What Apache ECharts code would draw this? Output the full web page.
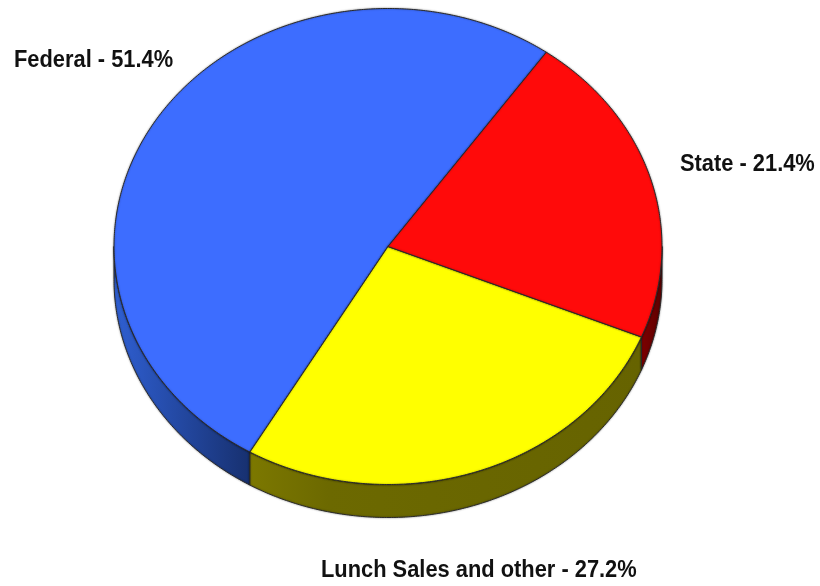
<!DOCTYPE html>
<html>
<head>
<meta charset="utf-8">
<script src="https://cdn.jsdelivr.net/npm/echarts@6/dist/echarts.min.js"></script>
<style>
  html, body { margin: 0; padding: 0; background: #fff; }
  #chart { width: 820px; height: 586px; }
</style>
</head>
<body>
<div id="chart"></div>
<script>
var categories = ['Federal', 'Lunch Sales and other', 'State'];
var shares = [51.4, 27.2, 21.4];

var topColors = ['#3d6dff', '#ffff00', '#ff0a0a'];
var sideColors = [
  [[0, '#2f5fd2'], [1, '#17306f']],
  [[0, '#7c7800'], [0.2, '#6c6900'], [1, '#666300']],
  [[0, '#7d0000'], [1, '#5c0000']]
];
var labelSpots = [[14, 61], [321, 571], [680, 165]];

var cx = 388, cy = 246.5, rx = 274, ry = 238, depth = 33;
var startAngle = 54.7; // federal starts here, going counter clockwise

var total = shares.reduce(function (a, b) { return a + b; }, 0);

function sliceAngles(index) {
  var before = 0;
  for (var i = 0; i < index; i++) before += shares[i];
  return [startAngle + before / total * 360, startAngle + (before + shares[index]) / total * 360];
}

function rim(angle, dy) {
  var r = angle * Math.PI / 180;
  return [cx + rx * Math.cos(r), cy - ry * Math.sin(r) + (dy || 0)];
}

function arcPoints(from, to, dy) {
  var pts = [];
  var n = Math.max(2, Math.ceil(Math.abs(to - from) * 2));
  for (var i = 0; i <= n; i++) pts.push(rim(from + (to - from) * i / n, dy));
  return pts;
}

function renderSide(params, api) {
  var a = sliceAngles(params.dataIndex);
  var value = api.value(0);
  // only the front half of the rim can be seen
  var from = Math.max(a[0], 180), to = Math.min(a[1], 360);
  if (!value || to <= from) return null;
  var pts = arcPoints(from, to, 0).concat(arcPoints(to, from, depth));
  return {
    type: 'polygon',
    shape: { points: pts },
    style: {
      fill: new echarts.graphic.LinearGradient(0, 0, 1, 0, sideColors[params.dataIndex].map(function (s) {
        return { offset: s[0], color: s[1] };
      })),
      stroke: '#2a2a2a',
      lineWidth: 1,
      shadowBlur: 2,
      shadowColor: 'rgba(0,0,0,0.4)'
    }
  };
}

function renderTop(params, api) {
  var a = sliceAngles(params.dataIndex);
  var pts = [[cx, cy]].concat(arcPoints(a[0], a[0] + api.value(0) / total * 360, 0));
  return {
    type: 'polygon',
    shape: { points: pts },
    style: {
      fill: topColors[params.dataIndex],
      stroke: '#2a2a2a',
      lineWidth: 1,
      shadowBlur: 2,
      shadowColor: 'rgba(0,0,0,0.4)'
    }
  };
}

var seriesData = shares.map(function (v) { return [v]; });

var chart = echarts.init(document.getElementById('chart'));
chart.setOption({
  animation: false,
  backgroundColor: '#fff',
  graphic: categories.map(function (name, i) {
    return {
      type: 'text',
      x: labelSpots[i][0],
      y: labelSpots[i][1],
      scaleX: 0.95,
      style: {
        text: name + ' - ' + shares[i].toFixed(1) + '%',
        fill: '#111',
        font: 'bold 23px "Liberation Sans", sans-serif',
        verticalAlign: 'middle'
      }
    };
  }),
  series: [
    { type: 'custom', coordinateSystem: 'none', renderItem: renderSide, data: seriesData, silent: true },
    { type: 'custom', coordinateSystem: 'none', renderItem: renderTop, data: seriesData, silent: true }
  ]
});
</script>
</body>
</html>
